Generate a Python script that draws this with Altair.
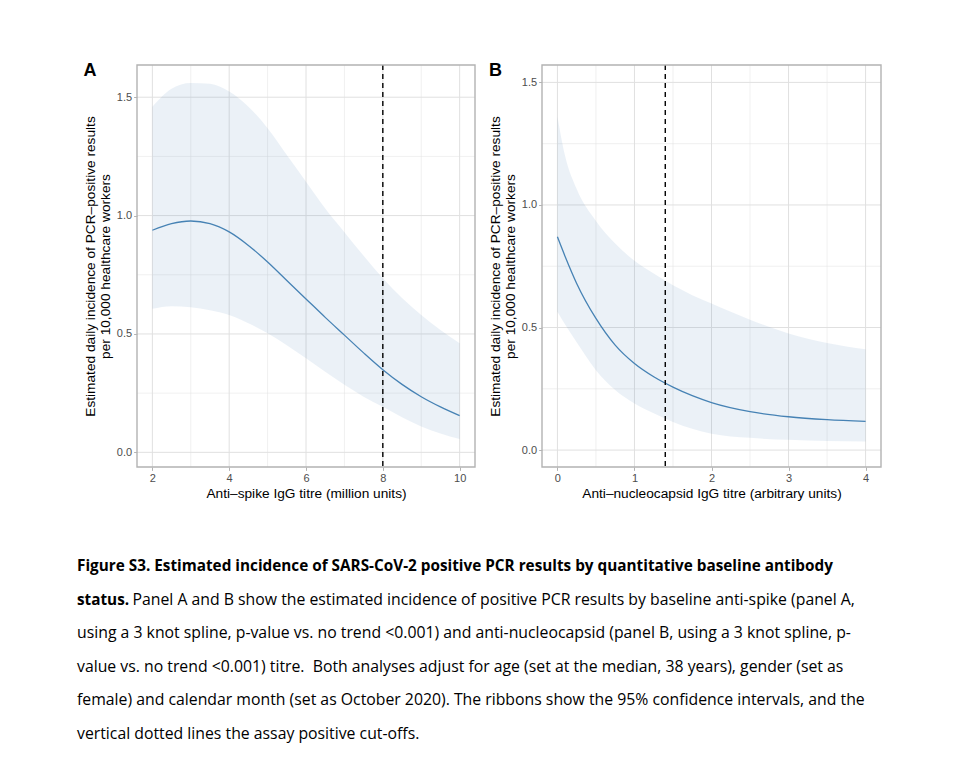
import altair as alt
import pandas as pd

# ---------------- data ----------------
a_x = [2, 2.5, 3, 3.5, 4, 4.5, 5, 5.5, 6, 6.5, 7, 7.5, 8, 8.5, 9, 9.5, 10]
a_est = [0.938, 0.966, 0.977, 0.966, 0.931, 0.874, 0.804, 0.726, 0.648, 0.570, 0.495, 0.420, 0.349, 0.287, 0.235, 0.192, 0.155]
a_hi = [1.460, 1.536, 1.560, 1.557, 1.524, 1.460, 1.369, 1.256, 1.143, 1.030, 0.930, 0.830, 0.735, 0.652, 0.580, 0.517, 0.461]
a_lo = [0.606, 0.617, 0.613, 0.600, 0.580, 0.545, 0.503, 0.452, 0.397, 0.340, 0.285, 0.235, 0.192, 0.148, 0.109, 0.079, 0.056]
a_cutoff = [8]

b_x = [0, 0.1, 0.25, 0.5, 0.75, 1, 1.25, 1.5, 1.75, 2, 2.5, 3, 3.5, 4]
b_est = [0.870, 0.790, 0.680, 0.537, 0.428, 0.353, 0.299, 0.257, 0.222, 0.194, 0.157, 0.136, 0.124, 0.117]
b_hi = [1.360, 1.200, 1.065, 0.935, 0.843, 0.772, 0.720, 0.672, 0.632, 0.598, 0.532, 0.476, 0.437, 0.411]
b_lo = [0.564, 0.512, 0.440, 0.326, 0.245, 0.190, 0.150, 0.115, 0.087, 0.067, 0.050, 0.042, 0.037, 0.035]
b_cutoff = [1.4]

a_xticks = [2, 4, 6, 8, 10]
a_xminor = [3, 5, 7, 9]
b_xticks = [0, 1, 2, 3, 4]
b_xminor = [0.5, 1.5, 2.5, 3.5]
yticks = [0, 0.5, 1.0, 1.5]
yminor = [0.25, 0.75, 1.25]

y_title = ["Estimated daily incidence of PCR\u2013positive results", "per 10,000 healthcare workers"]
a_xtitle = "Anti\u2013spike IgG titre (million units)"
b_xtitle = "Anti\u2013nucleocapsid IgG titre (arbitrary units)"

caption_bold = [
    "Figure S3. Estimated incidence of SARS-CoV-2 positive PCR results by quantitative baseline antibody",
    "status.",
]
caption_line2 = "Panel A and B show the estimated incidence of positive PCR results by baseline anti-spike (panel A,"
caption_rest = [
    "using a 3 knot spline, p-value vs. no trend <0.001) and anti-nucleocapsid (panel B, using a 3 knot spline, p-",
    "value vs. no trend <0.001) titre.\u00a0 Both analyses adjust for age (set at the median, 38 years), gender (set as",
    "female) and calendar month (set as October 2020). The ribbons show the 95% confidence intervals, and the",
    "vertical dotted lines the assay positive cut-offs.",
]

# ---------------- layout / style ----------------
W, H = 958, 761
TOP, BOTTOM = 65, 467
FONT = "Liberation Sans"
CAP_FONT = "Open Sans"
CAP_BOLD_SIZE = 15.3
CAP_SIZE = 15.8
BAND = "#4682b4"
GRID = "#e0e0e0"
BORDER = "#b3b3b3"


def panel(df, xdom, xrange, ydom, xticks, xminor, xfmt, xtitle, cutoff, letter, letter_x):
    def xs():
        return alt.Scale(domain=xdom, range=xrange, nice=False, zero=False)

    def ys():
        return alt.Scale(domain=ydom, range=[BOTTOM, TOP], nice=False, zero=False)

    x_axis = alt.Axis(
        orient="bottom", offset=-(H - BOTTOM), values=xticks, format=xfmt,
        grid=False, domain=False, tickColor=BORDER, tickSize=3.4, tickWidth=1,
        labelColor="#4d4d4d", labelFont=FONT, labelFontSize=11, labelPadding=2,
        labelFlush=False, labelOverlap=False,
        title=xtitle, titleFont=FONT, titleFontSize=13.7, titleFontWeight="normal",
        titleColor="black", titleX=(xrange[0] + xrange[1]) / 2, titleY=30.7,
        titleAlign="center", titleBaseline="alphabetic",
    )
    y_axis = alt.Axis(
        orient="left", offset=-xrange[0], values=yticks, format=".1f",
        grid=False, domain=False, tickColor=BORDER, tickSize=3.4, tickWidth=1,
        labelColor="#4d4d4d", labelFont=FONT, labelFontSize=11, labelPadding=2,
        labelFlush=False, labelOverlap=False,
        title=y_title, titleFont=FONT, titleFontSize=13.7, titleFontWeight="normal",
        titleColor="black", titleAngle=270, titleX=-43, titleY=(TOP + BOTTOM) / 2,
        titleAlign="center", titleBaseline="alphabetic", titleLineHeight=15.5,
    )

    one = pd.DataFrame({"k": [0]})
    layers = []
    # vertical grid
    layers.append(alt.Chart(pd.DataFrame({"v": xminor})).mark_rule(color=GRID, strokeWidth=0.5).encode(
        x=alt.X("v:Q", scale=xs(), axis=None), y=alt.value(TOP), y2=alt.value(BOTTOM)))
    layers.append(alt.Chart(pd.DataFrame({"v": xticks})).mark_rule(color=GRID, strokeWidth=1).encode(
        x=alt.X("v:Q", scale=xs(), axis=None), y=alt.value(TOP), y2=alt.value(BOTTOM)))
    # horizontal grid
    layers.append(alt.Chart(pd.DataFrame({"v": yminor})).mark_rule(color=GRID, strokeWidth=0.5).encode(
        y=alt.Y("v:Q", scale=ys(), axis=None), x=alt.value(xrange[0]), x2=alt.value(xrange[1])))
    layers.append(alt.Chart(pd.DataFrame({"v": yticks})).mark_rule(color=GRID, strokeWidth=1).encode(
        y=alt.Y("v:Q", scale=ys(), axis=None), x=alt.value(xrange[0]), x2=alt.value(xrange[1])))
    # ribbon (carries the axes)
    layers.append(alt.Chart(df).mark_area(interpolate="monotone", color=BAND, opacity=0.11).encode(
        x=alt.X("x:Q", scale=xs(), axis=x_axis),
        y=alt.Y("lo:Q", scale=ys(), axis=y_axis),
        y2="hi:Q"))
    # estimate line
    layers.append(alt.Chart(df).mark_line(interpolate="monotone", color=BAND, strokeWidth=1.3).encode(
        x=alt.X("x:Q", scale=xs(), axis=None),
        y=alt.Y("est:Q", scale=ys(), axis=None)))
    # cutoff
    layers.append(alt.Chart(pd.DataFrame({"c": cutoff})).mark_rule(
        color="black", strokeDash=[5, 4], strokeWidth=1.4).encode(
        x=alt.X("c:Q", scale=xs(), axis=None), y=alt.value(TOP), y2=alt.value(BOTTOM)))
    # border
    layers.append(alt.Chart(one).mark_rect(filled=False, stroke=BORDER, strokeWidth=1.4).encode(
        x=alt.value(xrange[0]), x2=alt.value(xrange[1]), y=alt.value(TOP), y2=alt.value(BOTTOM)))
    # panel letter
    layers.append(alt.Chart(pd.DataFrame({"t": [letter]})).mark_text(
        font=FONT, fontSize=18, fontWeight="bold", color="black", align="left", baseline="alphabetic").encode(
        text="t:N", x=alt.value(letter_x), y=alt.value(76)))
    return layers


df_a = pd.DataFrame({"x": a_x, "est": a_est, "lo": a_lo, "hi": a_hi})
df_b = pd.DataFrame({"x": b_x, "est": b_est, "lo": b_lo, "hi": b_hi})

layers_a = panel(df_a, [1.6, 10.4], [137, 475], [-0.062, 1.636], a_xticks, a_xminor, "d",
                 a_xtitle, a_cutoff, "A", 83.5)
layers_b = panel(df_b, [-0.2, 4.2], [542, 881], [-0.069, 1.571], b_xticks, b_xminor, "d",
                 b_xtitle, b_cutoff, "B", 489)


def line_scale():
    return alt.Scale(domain=[1, 6], range=[571, 739], nice=False, zero=False)


bold_df = pd.DataFrame({"line": [1, 2], "t": caption_bold})
reg2_df = pd.DataFrame({"line": [2], "t": [caption_line2]})
rest_df = pd.DataFrame({"line": [3, 4, 5, 6], "t": caption_rest})

cap_layers = [
    alt.Chart(bold_df).mark_text(font=CAP_FONT, fontSize=CAP_BOLD_SIZE, fontWeight="bold", color="black",
                                 align="left", baseline="alphabetic").encode(
        text="t:N", x=alt.value(77), y=alt.Y("line:Q", scale=line_scale(), axis=None)),
    alt.Chart(reg2_df).mark_text(font=CAP_FONT, fontSize=CAP_SIZE, color="black",
                                 align="left", baseline="alphabetic").encode(
        text="t:N", x=alt.value(132.5), y=alt.Y("line:Q", scale=line_scale(), axis=None)),
    alt.Chart(rest_df).mark_text(font=CAP_FONT, fontSize=CAP_SIZE, color="black",
                                 align="left", baseline="alphabetic").encode(
        text="t:N", x=alt.value(77), y=alt.Y("line:Q", scale=line_scale(), axis=None)),
]

chart = alt.layer(*layers_a, *layers_b, *cap_layers).resolve_scale(
    x="independent", y="independent"
).properties(
    width=W, height=H, padding=0, autosize=alt.AutoSizeParams(type="none"), background="white"
).configure_view(stroke=None)

chart.save("out.html", embed_options={"renderer": "svg", "actions": False})
